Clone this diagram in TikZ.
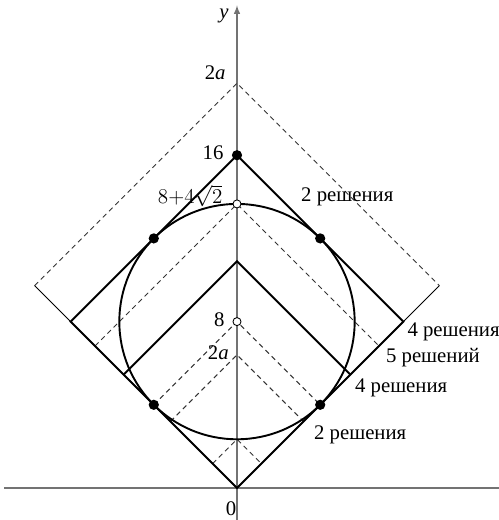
\documentclass[tikz,border=0pt]{standalone}
\usepackage{fontspec}
\setmainfont{Liberation Serif}
\begin{document}
\begin{tikzpicture}[x=0.5cm, y=0.5cm, font=\fontsize{14.2}{17}\selectfont,
  axis/.style={draw=black!55, line width=1pt},
  thickline/.style={line width=1.3pt},
  thinline/.style={line width=0.7pt},
  dashsq/.style={draw=black!80, line width=0.65pt, dash pattern=on 3.4pt off 2.6pt},
  fulldot/.style={circle, fill=black, inner sep=0pt, minimum size=7pt},
  opendot/.style={circle, draw=black, fill=white, line width=0.6pt, inner sep=0pt, minimum size=5.5pt}]
  \useasboundingbox (-11.394,-1.538) rectangle (12.596,23.462);
  % Axes
  \draw[axis] (-11.2,0) -- (12.6,0);
  \draw[axis, -latex] (0,-1.6) -- (0,23.2);
  \node (ylab) at (-0.62,22.7) {\textit{y}};
  \node (zero) at (-0.29,-1.0) {0};
  % Key points
  \coordinate (O) at (0,0);
  \coordinate (top) at (0,16);
  \coordinate (sqL) at (-8,8);
  \coordinate (sqR) at (8,8);
  \coordinate (outL) at (-9.73,9.73);
  \coordinate (outR) at (9.73,9.73);
  \coordinate (chL) at (-5.45,5.45);
  \coordinate (chT) at (0,10.9);
  \coordinate (chR) at (5.45,5.45);
  % Dashed squares |x|+|y-a|=a
  \foreach \a in {9.73, 6.828, 4, 3.2, 1.172}
    \draw[dashsq] (-\a,\a) -- (0,2*\a) -- (\a,\a);
  % Lower corner y=|x|
  \draw[thinline] (outL) -- (O) -- (outR);
  % Square |x|+|y-8|=8 and the solid chevron
  \draw[thickline] (O) -- (sqL) -- (top) -- (sqR) -- cycle;
  \draw[thickline] (chL) -- (chT) -- (chR);
  % Inscribed circle
  \draw[thickline] (0,8) circle (5.657);
  % Marked points
  \node[fulldot] (p16) at (top) {};
  \node[fulldot] (tUL) at (-4,12) {};
  \node[fulldot] (tUR) at (4,12) {};
  \node[fulldot] (tLL) at (-4,4) {};
  \node[fulldot] (tLR) at (4,4) {};
  \node[opendot] (c8) at (0,8) {};
  \node[opendot] (ctop) at (0,13.657) {};
  % Labels on the y axis
  \node[anchor=east] (l2a) at (-0.3,19.95) {2\textit{a}};
  \node[anchor=east] (l16) at (-0.4,16.1) {16};
  \node[anchor=east] (ltop) at (-0.45,14.05) {$8{+}4\sqrt{2}$};
  \node[anchor=east] (l8) at (-0.35,8.1) {8};
  \node[anchor=east] (l2b) at (-0.15,6.5) {2\textit{a}};
  % Number of solutions
  \node[anchor=west] (s1) at (2.84,14.0) {2 решения};
  \node[anchor=west] (s2) at (7.95,7.5) {4 решения};
  \node[anchor=west] (s3) at (6.92,6.25) {5 решений};
  \node[anchor=west] (s4) at (5.43,4.8) {4 решения};
  \node[anchor=west] (s5) at (3.46,2.55) {2 решения};
\end{tikzpicture}
\end{document}
